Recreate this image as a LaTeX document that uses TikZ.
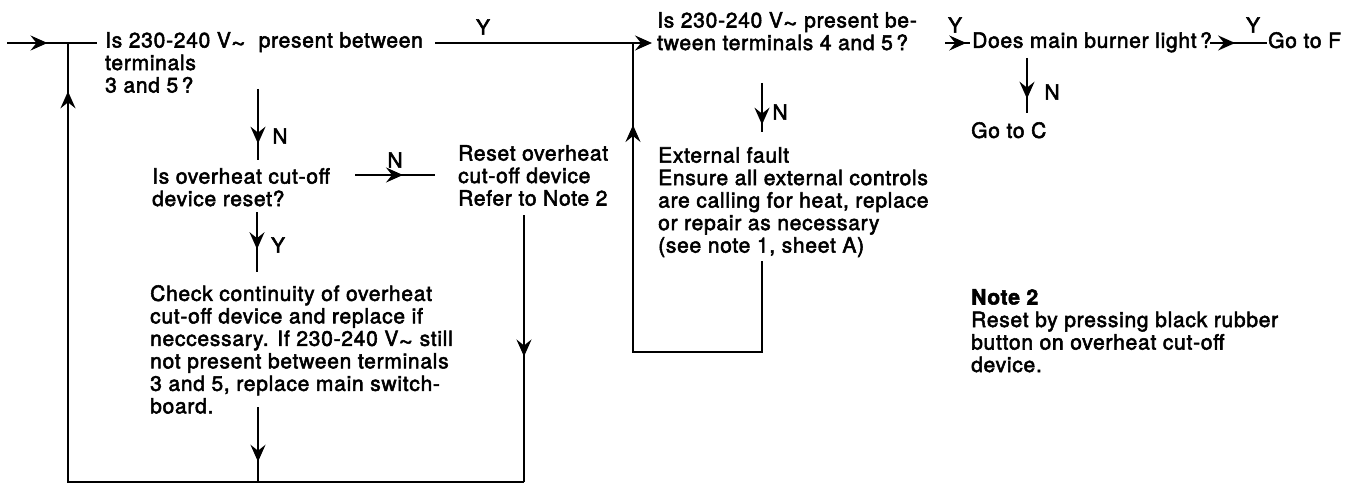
\documentclass[tikz,border=0pt]{standalone}
\usepackage{fontspec}
\setmainfont{TeX Gyre Heros}[LetterSpace=3.5, FakeBold=2.5]
\usetikzlibrary{arrows.meta, decorations.markings}

\newcommand{\ac}{V\raisebox{-3.5pt}{\scalebox{1.2}[1]{\textasciitilde}}}

\tikzset{
  box/.style={anchor=north west, inner sep=0pt, align=left, font=\fontsize{21}{22.5}\selectfont},
  yn/.style={inner sep=0pt, font=\fontsize{21}{22.5}\selectfont},
  flow/.style={line width=1.9pt},
  tip/.style={-{Stealth[length=17pt,width=15pt,inset=6pt]}},
  arr/.style={postaction={decorate, decoration={markings,
      mark=at position #1 with {\arrow{Stealth[length=17pt,width=15pt,inset=6pt]}}}}},
}

\begin{document}
\begin{tikzpicture}[x=1pt, y=-1pt]
	\useasboundingbox (0,0) rectangle (1348,484);

	% Questions and actions
	\node[box] (q1) at (105,32) {Is 230-240 \ac\ \ present between\\terminals\\3 and 5\,?};
	\node[box] (q2) at (657,12) {Is 230-240 \ac\ present be-\\tween terminals 4 and 5\,?};
	\node[box] (burner) at (972,32) {Does main burner light\,?};
	\node[box] (gof) at (1268,32) {Go to F};
	\node[box] (goc) at (971,122) {Go to C};
	\node[box] (cutoff) at (152,168) {Is overheat cut-off\\device reset?};
	\node[box] (reset) at (458,145) {Reset overheat\\cut-off device\\Refer to Note 2};
	\node[box] (check) at (150,285) {Check continuity of overheat\\cut-off device and replace if\\neccessary. If 230-240 \ac\ still\\not present between terminals\\3 and 5, replace main switch-\\board.};
	\node[box] (ext) at (658,147) {External fault\\Ensure all external controls\\are calling for heat, replace\\or repair as necessary\\(see note 1, sheet A)};
	\node[box] (note) at (971,289) {\textbf{Note 2}\\Reset by pressing black rubber\\button on overheat cut-off\\device.};

	% Y / N labels
	\node[yn] (y1) at (483,27) {Y};
	\node[yn] (n1) at (280,136) {N};
	\node[yn] (n2) at (395,160) {N};
	\node[yn] (y2) at (278,245) {Y};
	\node[yn] (n3) at (780,112) {N};
	\node[yn] (y3) at (955,25) {Y};
	\node[yn] (y4) at (1253,25) {Y};
	\node[yn] (n4) at (1052,92) {N};

	% Line ends and corners
	\coordinate (start) at (7,43);
	\coordinate (join1) at (68,43);
	\coordinate (q1in) at (97,43);
	\coordinate (q1out) at (435,43);
	\coordinate (join2) at (633,43);
	\coordinate (q2in) at (652,43);
	\coordinate (q1foot) at (258,89);
	\coordinate (cuthead) at (258,160);
	\coordinate (cutout) at (355,175);
	\coordinate (resetin) at (435,175);
	\coordinate (cutfoot) at (257,212);
	\coordinate (checkhead) at (257,272);
	\coordinate (checkfoot) at (258,407);
	\coordinate (checkbase) at (258,482);
	\coordinate (resetfoot) at (524,215);
	\coordinate (rb) at (524,482);
	\coordinate (lb) at (68,482);
	\coordinate (q2foot) at (762,83);
	\coordinate (exthead) at (762,132);
	\coordinate (extfoot) at (762,261);
	\coordinate (extr) at (762,352);
	\coordinate (extl) at (633,352);
	\coordinate (q2out) at (945,43);
	\coordinate (burnin) at (970,43);
	\coordinate (burnout) at (1210,43);
	\coordinate (gofin) at (1267,43);
	\coordinate (burnfoot) at (1027,58);
	\coordinate (gochead) at (1027,113);

	% First question
	\draw[flow, arr=0.45] (start) -- (q1in);
	\draw[flow, tip] (q1out) -- (q2in);
	\draw[flow, arr=0.77] (q1foot) -- (cuthead);
	\draw[flow, arr=0.6] (cutout) -- (resetin);
	\draw[flow, arr=0.62] (cutfoot) -- (checkhead);

	% Return loop to start
	\draw[flow, arr=0.73] (checkfoot) -- (checkbase);
	\draw[flow, arr=0.53] (resetfoot) -- (rb);
	\draw[flow, arr=0.946] (rb) -- (lb) -- (join1);

	% Second question
	\draw[flow, arr=0.85] (q2foot) -- (exthead);
	\draw[flow, arr=0.845] (extfoot) -- (extr) -- (extl) -- (join2);
	\draw[flow, arr=0.85] (q2out) -- (burnin);
	\draw[flow, arr=0.44] (burnout) -- (gofin);
	\draw[flow, arr=0.74] (burnfoot) -- (gochead);
\end{tikzpicture}
\end{document}
